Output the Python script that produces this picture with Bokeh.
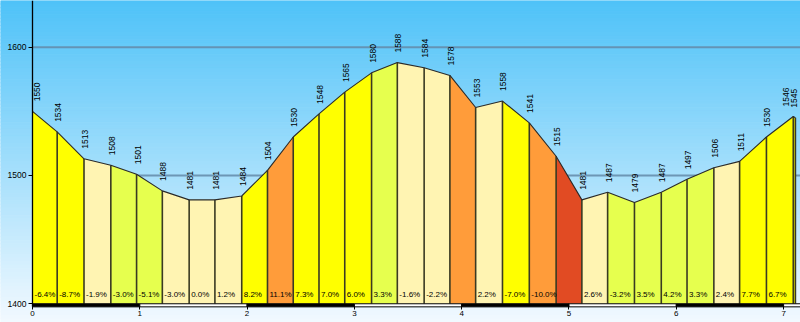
import numpy as np
from bokeh.plotting import figure
from bokeh.models import Range1d, FixedTicker
from bokeh.embed import file_html
from bokeh.resources import INLINE
from bokeh.core.properties import value

# ---- data ----
distance_km = [0.00, 0.23, 0.48, 0.73, 0.97, 1.21, 1.46, 1.70, 1.95, 2.19,
               2.43, 2.67, 2.91, 3.16, 3.40, 3.65, 3.89, 4.13, 4.38, 4.63,
               4.88, 5.12, 5.36, 5.61, 5.86, 6.10, 6.35, 6.59, 6.84, 7.09, 7.11]
elevation_m = [1550, 1534, 1513, 1508, 1501, 1488, 1481, 1481, 1484, 1504,
               1530, 1548, 1565, 1580, 1588, 1584, 1578, 1553, 1558, 1541,
               1515, 1481, 1487, 1479, 1487, 1497, 1506, 1511, 1530, 1546, 1545]
grade_labels = ["-6.4%", "-8.7%", "-1.9%", "-3.0%", "-5.1%", "-3.0%", "0.0%", "1.2%", "8.2%", "11.1%",
                "7.3%", "7.0%", "6.0%", "3.3%", "-1.6%", "-2.2%", "", "2.2%", "-7.0%", "-10.0%",
                "", "2.6%", "-3.2%", "3.5%", "4.2%", "3.3%", "2.4%", "7.7%", "6.7%", ""]
grade_class = [2, 2, 0, 1, 1, 0, 0, 0, 2, 3,
               2, 2, 2, 1, 0, 0, 3, 0, 2, 3,
               4, 0, 1, 1, 1, 1, 0, 2, 2, 2]
y_ticks = [1400, 1500, 1600]
x_ticks = [0, 1, 2, 3, 4, 5, 6, 7]

# ---- styles ----
class_colors = ["#FFF4B2", "#E6FF4E", "#FFFF00", "#FF9C3A", "#E14B23"]
FONT = value("Liberation Sans")

BASE = 1400
x0, x1 = -0.2982, 7.1575
y0, y1 = 1385.4, 1636.4
bar_bottom = 1397.6

p = figure(width=800, height=322, x_range=Range1d(x0, x1), y_range=Range1d(y0, y1),
           toolbar_location=None, output_backend="svg", min_border=0,
           outline_line_color=None, background_fill_color="#ffffff",
           border_fill_color="#ffffff")
p.grid.visible = False

# sky gradient background
n = 90
edges = np.linspace(y1, y0, n + 1)
t = (np.arange(n) + 0.5) / n
top_rgb = np.array([78, 194, 248])
bot_rgb = np.array([242, 249, 255])
bg_cols = ["#%02x%02x%02x" % tuple(int(round(c)) for c in top_rgb + (bot_rgb - top_rgb) * tt) for tt in t]
p.quad(left=x0, right=x1, top=edges[:-1], bottom=edges[1:], fill_color=bg_cols,
       line_color=bg_cols, line_width=1, level="image")

# grid lines
p.segment(x0=0, x1=x1, y0=y_ticks[1:], y1=y_ticks[1:], line_color="#638aa8",
          line_width=2, line_alpha=0.85, level="underlay")

# filled segments
xs, ys, cols = [], [], []
for i in range(len(distance_km) - 1):
    xs.append([distance_km[i], distance_km[i], distance_km[i + 1], distance_km[i + 1]])
    ys.append([BASE, elevation_m[i], elevation_m[i + 1], BASE])
    cols.append(class_colors[grade_class[i]])
p.patches(xs, ys, fill_color=cols, line_color=None)

# vertical separators
p.segment(x0=distance_km[1:], y0=BASE, x1=distance_km[1:], y1=elevation_m[1:],
          line_color="#3a3a22", line_width=1.6)
# outline
p.line(distance_km, elevation_m, line_color="#2a2a2a", line_width=1.1)

# elevation labels
xoff = np.ones(len(distance_km)) * 1
xoff[0] = 5
xoff[-2] = -7
xoff[-1] = -1
p.text(x=distance_km, y=elevation_m, text=[str(v) for v in elevation_m], angle=np.pi / 2,
       text_align="left", text_baseline="middle", x_offset=xoff, y_offset=-10,
       text_font=FONT, text_font_size="8.5px", text_color="#000000")

# grade labels
p.text(x=distance_km[:-1], y=BASE, text=grade_labels, text_align="left",
       text_baseline="middle", x_offset=2, y_offset=-9,
       text_font=FONT, text_font_size="8px", text_color="#000000")

# distance scale bar
lefts = x_ticks[:-1] + [x_ticks[-1]]
rights = x_ticks[1:] + [x1]
bar_cols = ["#000000" if k % 2 == 0 else "#ffffff" for k in range(len(lefts))]
p.quad(left=lefts, right=rights, top=BASE, bottom=bar_bottom, fill_color=bar_cols,
       line_color="#000000", line_width=1)

# axes
ya = p.yaxis[0]
ya.fixed_location = 0
ya.ticker = FixedTicker(ticks=y_ticks)
ya.bounds = (bar_bottom, y1)
ya.axis_line_color = "#000000"
ya.axis_line_width = 1.3
ya.major_tick_out = 4
ya.major_tick_in = 0
ya.minor_tick_line_color = None
ya.major_tick_line_color = "#000000"
ya.major_label_standoff = 2
ya.major_label_text_font = "Liberation Sans"
ya.major_label_text_font_size = "8.5px"
ya.major_label_text_color = "#000000"

xa = p.xaxis[0]
xa.fixed_location = bar_bottom
xa.ticker = FixedTicker(ticks=x_ticks)
xa.axis_line_color = None
xa.major_tick_out = 3
xa.major_tick_in = 0
xa.minor_tick_line_color = None
xa.major_tick_line_color = "#000000"
xa.major_label_standoff = 1
xa.major_label_text_font = "Liberation Sans"
xa.major_label_text_font_size = "8px"
xa.major_label_text_color = "#000000"

open("out.html", "w").write(file_html(p, INLINE))
